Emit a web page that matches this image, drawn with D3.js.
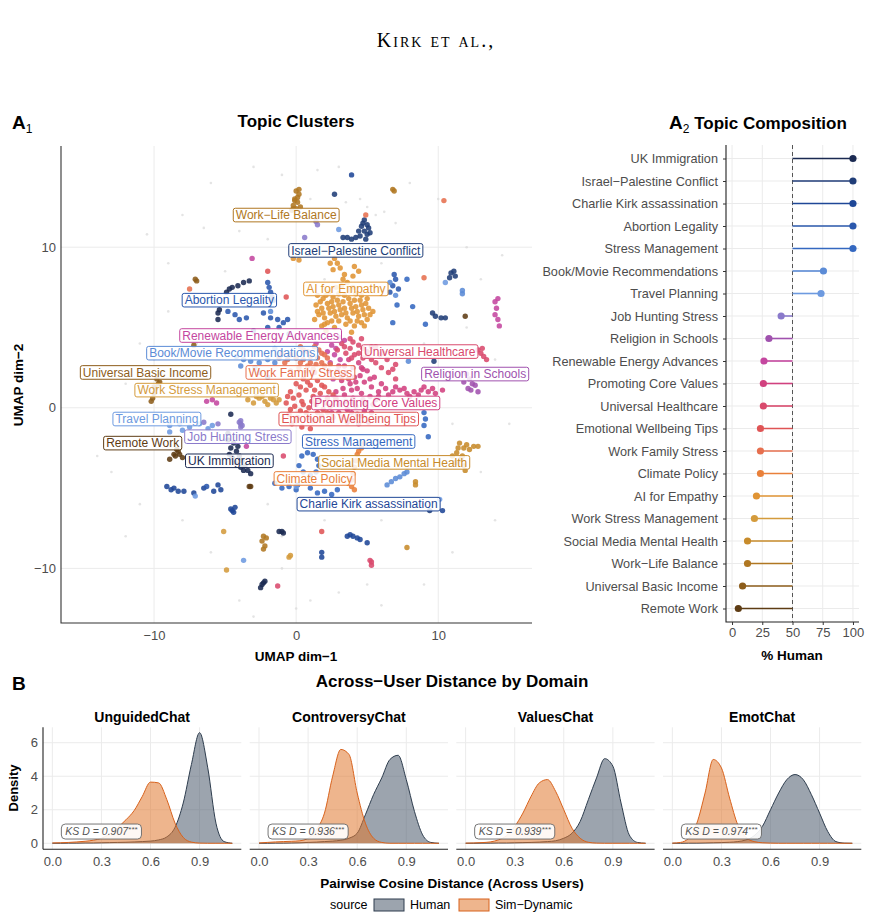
<!DOCTYPE html>
<html>
<head>
<meta charset="utf-8">
<script src="https://cdn.jsdelivr.net/npm/d3@7"></script>
<style>
  body { margin: 0; background: #fff; }
  svg { font-family: "Liberation Sans", Arial, sans-serif; }
</style>
</head>
<body>
<svg id="fig" width="872" height="919"></svg>
<script>
// ---------- data ----------
const topics = ["UK Immigration", "Israel\u2212Palestine Conflict", "Charlie Kirk assassination",
  "Abortion Legality", "Stress Management", "Book/Movie Recommendations", "Travel Planning",
  "Job Hunting Stress", "Religion in Schools", "Renewable Energy Advances", "Promoting Core Values",
  "Universal Healthcare", "Emotional Wellbeing Tips", "Work Family Stress", "Climate Policy",
  "AI for Empathy", "Work Stress Management", "Social Media Mental Health", "Work\u2212Life Balance",
  "Universal Basic Income", "Remote Work"];
const pctHuman = [100, 100, 100, 100, 100, 75.6, 73.6, 40.6, 30.5, 26.4, 25.9, 25.9, 23.5, 23.5,
  23.5, 20.2, 18.5, 12.8, 12.8, 8.7, 5.2];
const topicColors = ["#1b2a52", "#203d78", "#1f4797", "#2b58ad", "#3468c0", "#5b8bd6", "#6d9ae0",
  "#8a7acb", "#a052ae", "#c4479f", "#d1417f", "#d94a6d", "#df5455", "#e66f4e", "#e9803a",
  "#e09434", "#d49b3c", "#c78b2b", "#b07722", "#8d5d1b", "#5e3c14"];

// label anchor per topic (UMAP coords)
const labelPos = [[-4.7, -3.3], [4.2, 9.8], [5.1, -6.0], [-4.7, 6.7], [4.4, -2.1], [-4.5, 3.4],
  [-9.8, -0.7], [-4.1, -1.8], [12.6, 2.1], [-2.5, 4.5], [5.6, 0.3], [8.7, 3.5], [3.7, -0.7],
  [0.3, 2.2], [1.3, -4.4], [3.5, 7.4], [-6.3, 1.1], [6.9, -3.4], [-0.7, 12.0], [-10.6, 2.2],
  [-10.8, -2.2]];

// UMAP embeddings, one list per topic
const ptsUK = [[-4.4,-2.2],[-4.6,-2.5],[-4.2,-2.7],[-4.0,-3.0],[-3.8,-3.3],[-3.6,-3.6],[-3.4,-3.9],
  [-3.2,-4.1],[-4.7,-2.9],[-4.3,-3.4],[-3.9,-3.7],[-4.5,-3.1],[-4.6,-0.4],[-4.8,-1.6],[-4.8,-2.0],
  [-5.5,5.5],[-5.5,5.9],[-5.4,6.1],[-1.2,-7.7],[-1.0,-7.7],[-0.9,-7.8],[-2.4,-11.0],[-2.2,-10.8],
  [-2.5,-11.2],[-2.3,-10.9],[-4.9,7.2],[-4.5,7.5],[-4.1,7.6],[-3.7,7.8],[-3.3,7.9],[-4.7,7.4],
  [-4.1,-2.4],[-3.7,-3.9]];
const ptsIsrael = [[4.6,11.3],[4.8,11.0],[5.0,10.8],[4.5,10.7],[4.9,10.5],[5.2,10.9],[4.2,10.6],
  [3.6,10.6],[3.3,10.6],[4.7,11.5],[5.1,11.2],[4.4,11.0],[5.0,11.4],[10.9,8.4],[11.1,8.5],
  [11.2,8.2],[10.8,8.1],[9.6,5.9],[9.8,5.7],[10.2,5.6],[10.5,5.6],[9.7,2.9],[2.7,13.3],[9.4,-6.4],
  [4.8,11.7],[3.9,10.5]];
const ptsCharlie = [[-9.1,-4.9],[-8.8,-5.1],[-8.3,-5.2],[-7.9,-5.2],[-7.2,-5.3],[-6.5,-5.0],
  [-5.8,-5.2],[-5.5,-4.8],[-5.3,-5.1],[-4.6,-6.3],[-4.4,-6.5],[-4.3,-6.2],[-4.5,-6.4],[3.6,-8.0],
  [3.8,-7.9],[4.0,-8.0],[4.3,-8.1],[4.5,-8.2],[5.0,-8.4],[1.8,-9.0],[1.8,-9.3],[3.9,14.5],
  [10.3,-6.4],[-8.6,-5.0]];
const ptsAbortion = [[-2.0,7.8],[-1.9,7.5],[-1.8,7.2],[-1.7,6.9],[-1.6,6.7],[-2.3,5.9],[-1.8,5.6],
  [-1.3,5.5],[-0.9,5.3],[-0.6,5.5],[-4.8,6.0],[-4.3,5.8],[-4.0,5.5],[-3.5,5.6],[-2.0,5.0],
  [-1.2,5.0],[-3.0,4.8],[-0.5,4.6],[6.6,7.2],[6.8,7.6],[7.0,8.0],[7.2,7.4],[6.9,8.3],[-6.3,-4.9]];
const ptsStress = [[0.4,-3.0],[0.8,-2.8],[1.2,-2.9],[1.5,-3.2],[1.6,-3.6],[1.4,-4.0],[1.0,-4.2],
  [0.5,-4.0],[0.2,-3.6],[-1.5,-4.7],[-1.0,-5.0],[-0.5,-4.9],[0.0,-5.1],[0.1,-4.8],[1.0,-5.0],
  [1.5,-5.3],[2.0,-5.2],[2.5,-5.4],[2.9,-5.1],[9.3,-1.8],[9.0,-0.3],[9.1,-0.7],[9.0,-1.1],
  [7.8,8.0],[6.8,5.3],[9.1,5.2],[8.2,6.3],[7.1,6.4],[-2.6,2.2],[-2.0,1.9]];
const ptsBook = [[-4.2,3.2],[-3.7,3.0],[-3.2,2.9],[-2.6,2.8],[-2.0,3.0],[-1.5,2.8],[-3.9,2.6],
  [-2.9,2.5],[6.4,-4.8],[6.7,-4.6],[7.0,-4.4],[7.3,-4.3],[7.6,-4.1],[7.8,-4.0],[7.9,2.9],
  [6.6,7.8],[7.0,7.0],[11.7,7.1],[11.7,7.3],[-1.8,6.0]];
const ptsTravel = [[-8.9,-1.1],[-8.2,-1.0],[-7.5,-1.2],[-6.8,-1.0],[-6.2,-1.3],[-5.9,-1.1],
  [-8.9,-1.5],[-8.0,-1.4],[10.1,-5.7],[-3.7,-9.5],[-7.1,-5.5],[0.0,-4.9],[10.5,7.8],[3.5,-2.0],
  [-1.5,3.7],[3.0,11.1]];
const ptsJob = [[-3.9,-0.8],[-3.9,-1.0],[-3.9,-1.2],[-4.0,-0.9],[-3.8,-1.1],[-5.5,-1.0],[1.5,11.4],
  [0.6,10.6],[1.4,11.6],[-6.5,-0.9]];
const ptsReligion = [[12.0,2.1],[12.2,1.8],[12.4,1.5],[12.1,1.2],[12.6,1.4],[12.8,1.0],[11.8,1.6],
  [12.3,1.1]];
const ptsRenewable = [[2.5,3.9],[2.7,3.3],[2.4,2.8],[2.9,2.3],[2.6,1.8],[3.1,3.0],[2.2,3.5],[3.4,4.2],
  [14.0,6.6],[14.1,6.2],[14.0,5.8],[14.2,5.5],[14.3,5.1],[14.2,6.8],[-3.1,9.3],[-6.3,0.4],
  [-5.9,0.5],[-5.6,0.3],[-3.5,-2.4],[1.4,4.0],[2.8,3.7],[2.3,2.3],[3.0,4.4]];
const ptsCore = [[3.0,2.6],[3.5,2.2],[4.0,2.5],[4.5,2.0],[5.0,2.3],[3.2,1.7],[3.8,1.5],[4.3,1.2],
  [4.8,1.6],[5.3,1.3],[2.8,1.0],[3.4,0.8],[4.0,0.6],[4.6,0.9],[5.2,0.7],[5.8,1.0],[6.3,1.2],
  [6.8,1.0],[7.3,1.1],[7.8,0.9],[8.3,1.0],[8.8,1.1],[9.3,1.0],[9.8,0.9],[10.3,1.1],[3.0,0.2],
  [3.6,-0.1],[4.2,0.1],[4.8,-0.2],[5.4,0.2],[3.3,-0.6],[4.0,-0.8],[4.6,-0.5],[5.1,-0.9],
  [2.5,-0.3],[5.6,0.5],[6.0,1.5],[4.4,2.8],[3.7,3.0],[5.5,1.9],[3.3,1.2],[4.1,1.9],[4.9,0.3],
  [3.9,-0.3],[3.2,2.0],[3.7,1.8],[4.2,1.6],[4.7,2.4],[5.2,1.8],[3.5,0.4],[4.1,0.3],[4.7,0.5],
  [5.3,-0.3],[3.0,-0.3],[3.6,-0.9],[4.3,-0.4],[2.8,0.6],[6.5,0.8],[7.0,1.3],[7.6,1.2],[8.0,0.7],
  [8.6,0.8],[9.0,1.3],[9.6,1.2],[3.4,2.6],[4.6,2.5],[5.8,0.7],[4.4,-1.0],[3.9,1.1]];
const ptsHealthcare = [[3.2,4.0],[3.8,3.7],[4.4,3.9],[5.0,3.5],[5.6,3.8],[4.1,3.3],[4.7,3.1],
  [5.3,3.0],[5.9,3.3],[6.4,3.0],[7.0,2.7],[3.5,3.4],[6.0,2.5],[6.5,2.2],[2.9,3.6],[12.8,3.6],
  [13.0,3.4],[13.2,3.2],[13.4,3.0],[13.1,3.7],[5.3,-9.6],[5.3,-9.8],[5.2,-9.5],[-1.3,-11.1],
  [7.0,1.8],[-0.9,-3.0],[3.4,3.8],[4.0,4.1],[4.7,3.7],[5.3,3.8],[4.4,3.4],[5.0,3.2],[5.6,2.8],
  [3.8,4.3],[6.2,3.4],[6.8,2.4],[3.9,3.1],[4.6,4.3]];
const ptsEmotional = [[0.0,1.5],[0.5,1.8],[1.0,1.4],[1.5,1.7],[2.0,1.3],[-0.4,1.0],[0.2,0.8],
  [0.7,1.1],[1.2,0.7],[1.7,0.9],[2.2,0.6],[-0.7,0.3],[-0.1,0.1],[0.4,0.4],[0.9,0.0],[1.4,0.2],
  [1.9,-0.1],[2.4,0.1],[-0.5,-0.4],[0.1,-0.6],[0.7,-0.3],[1.2,-0.8],[1.8,-0.5],[-0.3,-1.0],
  [0.4,-1.2],[1.0,-1.3],[2.6,-0.6],[2.8,0.5],[1.8,-7.7],[-2.0,8.5],[-0.7,6.9],[-0.4,2.3],[1.3,2.2],
  [0.3,1.3],[0.8,1.6],[1.3,1.1],[1.8,1.4],[2.3,1.0],[-0.2,0.6],[0.5,0.2],[1.1,0.4],[1.6,0.5],
  [2.1,0.3],[-0.4,-0.1],[0.3,-0.2],[0.9,-0.6],[1.5,-0.3],[2.2,-0.3],[-0.6,0.7],[2.6,0.8],[0.0,-0.8]];
const ptsFamily = [[0.3,3.8],[0.8,3.5],[1.3,3.8],[1.8,3.4],[2.2,3.1],[0.5,3.0],[1.0,2.8],[1.5,3.1],
  [2.0,2.6],[0.2,2.5],[0.7,2.3],[-1.2,3.1],[-0.8,2.8],[-1.0,3.4],[-0.4,3.3],[1.2,2.4],[4.9,12.0],
  [9.0,8.1],[10.4,12.9],[-7.5,7.4],[0.5,3.6],[1.0,3.2],[1.6,3.6],[2.0,3.3],[0.8,2.6],[1.4,2.7],
  [0.0,3.1],[0.3,2.8],[1.8,2.8],[-0.6,3.0],[2.4,2.7]];
const ptsClimate = [[4.8,-2.2],[4.6,-2.5],[4.3,-2.9],[4.2,-3.3],[4.1,-3.7],[4.0,-4.1],[3.9,-4.5],
  [3.9,-4.9],[4.1,-5.1],[4.4,-2.7]];
const ptsAI = [[2.4,9.0],[2.7,9.3],[2.9,9.0],[3.1,8.7],[2.6,8.6],[3.4,8.3],[4.1,8.8],[4.4,8.5],
  [4.0,8.2],[1.5,7.0],[1.9,6.8],[2.3,7.2],[2.6,6.9],[3.0,7.1],[3.4,7.0],[3.8,7.3],[4.2,7.1],
  [4.6,7.0],[5.0,6.8],[1.4,6.4],[1.8,6.2],[2.2,6.5],[2.6,6.3],[3.0,6.4],[3.4,6.2],[3.8,6.5],
  [4.2,6.3],[4.6,6.4],[5.1,6.2],[5.4,6.0],[1.6,5.8],[2.0,5.6],[2.4,5.9],[2.8,5.7],[3.2,5.8],
  [3.6,5.6],[4.0,5.9],[4.4,5.7],[4.8,5.8],[1.8,5.1],[2.2,5.3],[2.7,5.0],[3.5,5.2],[4.1,5.1],
  [4.6,5.3],[5.0,5.5],[1.3,5.5],[2.1,4.8],[3.9,4.7],[-0.2,9.3],[0.2,9.2],[1.7,6.6],[2.1,7.0],
  [2.5,6.6],[2.9,6.7],[3.3,6.6],[3.7,6.8],[4.1,6.7],[4.5,6.7],[4.9,6.5],[1.5,6.0],[1.9,5.9],
  [2.3,6.2],[2.7,6.0],[3.1,6.1],[3.5,5.9],[3.9,6.2],[4.3,6.0],[4.7,6.1],[5.2,5.8],[2.0,5.2],
  [2.5,5.4],[3.0,5.4],[3.8,5.4],[4.3,5.4],[4.8,5.1],[3.2,7.6],[3.6,7.8],[2.8,7.5],[4.0,7.5],[3.3,8.0]];
const ptsWorkStress = [[-3.4,0.5],[-3.0,0.3],[-2.6,0.6],[-2.2,0.4],[-1.8,0.6],[-1.4,0.3],[-2.8,0.7],
  [-2.0,0.2],[-1.6,0.5],[-5.1,-7.7],[-4.9,-10.1],[-0.5,-9.3],[-0.4,-9.2],[-2.4,0.7],[-1.2,0.5]];
const ptsSocial = [[11.5,-2.2],[11.8,-2.5],[12.0,-2.3],[12.5,-2.4],[12.8,-2.4],[11.3,-2.8],
  [11.6,-3.2],[11.8,-3.6],[11.9,-3.9],[11.2,-3.4],[12.2,-2.6],[11.0,-3.0],[8.4,-4.8],[8.4,-4.6],
  [7.8,-8.7],[11.4,-2.5],[11.7,-3.0]];
const ptsWorkLife = [[0.0,13.5],[0.2,13.3],[-0.1,13.0],[0.1,12.8],[-0.2,12.6],[0.0,12.4],[0.3,12.5],
  [-0.3,12.3],[0.2,13.6],[-0.1,12.9],[6.8,13.6],[6.9,13.5],[-2.3,-8.0],[-2.4,-8.3],[-2.2,-8.6],
  [-2.3,-8.8],[-2.1,-8.1],[0.1,13.1],[-0.2,12.4]];
const ptsUBI = [[-9.8,1.8],[-9.7,1.5],[-9.9,1.2],[-10.0,0.9],[-10.1,0.6],[-10.2,0.4],[-9.6,1.6],
  [-10.0,1.3],[-7.0,7.9],[-7.1,8.0],[-7.2,3.9]];
const ptsRemote = [[-8.4,-2.6],[-8.2,-2.9],[-8.6,-2.9],[-8.9,-3.2],[-8.0,-3.1],[-8.5,-3.0],
  [-8.3,-2.7],[-3.2,-4.9],[-3.3,-4.9],[11.9,5.7]];
const ptsOther = [[-12,1.5],[-11,4],[-13,-4],[-9,9],[-8,12],[-6,14],[-3,15],[-1,14.5],[1,13],[3,15],
  [5,12.5],[7,11.5],[8,14],[10,13],[12,10],[13,8],[14,3],[15,-1],[13,-4],[14,-7],[11,-9],[9,-11],
  [6,-12.3],[3,-11.5],[1,-12],[-1,-10],[-4,-12],[-6,-9],[-8,-7],[-11,-6],[-14,-3],[-12,-8],[-7,4],
  [-5,8.5],[-2,10.5],[0.5,10],[2,8],[6,9],[9,4],[11,-1],[10,-3],[8,-6],[6,-7],[2,-7],[-2,-6],
  [-6,-3],[-10,3],[-9,6],[-4,11],[3.5,12.8],[4.5,13],[7,3.5],[8,-1],[-1,-8],[0,-12.5],[5,-11],
  [-3,-13],[12,5],[-12.5,-1],[14.5,9.5],[6.2,12.2],[5.6,12.0],[1.5,14.8],[-6.5,11.2],[-10.5,10.8]];
const clusterPts = [ptsUK, ptsIsrael, ptsCharlie, ptsAbortion, ptsStress, ptsBook, ptsTravel, ptsJob,
  ptsReligion, ptsRenewable, ptsCore, ptsHealthcare, ptsEmotional, ptsFamily, ptsClimate, ptsAI,
  ptsWorkStress, ptsSocial, ptsWorkLife, ptsUBI, ptsRemote];

// panel B
const domains = ["UnguidedChat", "ControversyChat", "ValuesChat", "EmotChat"];
const ksD = ["0.907", "0.936", "0.939", "0.974"];
const distGrid = [0, 0.05, 0.1, 0.15, 0.2, 0.25, 0.3, 0.35, 0.4, 0.45, 0.5, 0.55, 0.6, 0.65, 0.7,
  0.75, 0.8, 0.85, 0.9, 0.95, 1.0, 1.05, 1.1];
const humanDens = [
  [0,0,0.01,0.01,0.02,0.02,0.03,0.04,0.05,0.06,0.08,0.1,0.13,0.2,0.38,0.95,2.4,4.7,6.6,4.5,1.2,0.1,0],
  [0,0,0.01,0.01,0.02,0.03,0.05,0.07,0.1,0.13,0.18,0.3,0.6,1.7,2.9,3.9,5.0,5.25,3.8,1.9,0.5,0.05,0],
  [0,0,0.01,0.01,0.02,0.02,0.03,0.04,0.05,0.07,0.1,0.15,0.3,0.6,1.3,2.6,3.9,5.05,4.6,2.4,0.5,0.05,0],
  [0,0,0.01,0.01,0.02,0.03,0.04,0.06,0.1,0.2,0.45,1.0,2.0,3.0,3.8,4.1,3.8,2.9,1.8,0.7,0.1,0.01,0]
];
const simDens = [
  [0.02,0.03,0.05,0.08,0.12,0.18,0.3,0.55,0.95,1.4,1.95,2.8,3.65,3.6,2.6,1.2,0.35,0.07,0.01,0,0,0,0],
  [0.02,0.05,0.08,0.1,0.12,0.15,0.3,0.8,1.8,4.0,5.6,5.3,3.0,1.2,0.3,0.05,0,0,0,0,0,0,0],
  [0.01,0.02,0.04,0.08,0.2,0.45,1.0,1.8,2.8,3.6,3.8,3.1,2.0,0.9,0.3,0.06,0.01,0,0,0,0,0,0],
  [0.01,0.05,0.3,1.2,3.0,5.0,4.5,2.7,1.1,0.35,0.1,0.03,0.01,0,0,0,0,0,0,0,0,0,0]
];
const sources = ["Human", "Sim\u2212Dynamic"];

// ---------- drawing ----------
const svg = d3.select("#fig");
const minus = d => (d < 0 ? "\u2212" + Math.abs(d) : String(d));
const gridCol = "#ebebeb", tickCol = "#4d4d4d";

svg.append("text").attr("x", 436).attr("y", 47).attr("text-anchor", "middle")
  .style("font-family", "'Liberation Serif','DejaVu Serif',serif")
  .style("font-variant", "small-caps").style("font-size", "20px")
  .style("letter-spacing", "2px").text("Kirk et al.,");

function panelTag(x, y, letter, sub) {
  const t = svg.append("text").attr("x", x).attr("y", y).style("font-weight", "bold").style("font-size", "19px");
  t.append("tspan").text(letter);
  if (sub) t.append("tspan").attr("dy", 4).style("font-size", "12px").style("font-weight", "normal").text(sub);
  return t;
}

// ----- A1 -----
panelTag(12, 129, "A", "1");
svg.append("text").attr("x", 296).attr("y", 127).attr("text-anchor", "middle")
  .style("font-weight", "bold").style("font-size", "17px").text("Topic Clusters");

const xA1 = d3.scaleLinear().domain([-16.55, 16.6]).range([61, 532]);
const yA1 = d3.scaleLinear().domain([-13.4, 16.3]).range([623, 146]);
const a1 = svg.append("g");
const umapTicks = [-10, 0, 10];

a1.selectAll(".gx").data(umapTicks).join("line")
  .attr("x1", d => xA1(d)).attr("x2", d => xA1(d)).attr("y1", 146).attr("y2", 623)
  .attr("stroke", gridCol).attr("stroke-width", 1);
a1.selectAll(".gy").data(umapTicks).join("line")
  .attr("y1", d => yA1(d)).attr("y2", d => yA1(d)).attr("x1", 61).attr("x2", 532)
  .attr("stroke", gridCol).attr("stroke-width", 1);

a1.append("g").selectAll("circle").data(ptsOther).join("circle")
  .attr("cx", d => xA1(d[0])).attr("cy", d => yA1(d[1])).attr("r", 1.3)
  .attr("fill", "#d9d9d9").attr("opacity", 0.7);

topics.forEach((t, i) => {
  a1.append("g").selectAll("circle").data(clusterPts[i]).join("circle")
    .attr("cx", d => xA1(d[0])).attr("cy", d => yA1(d[1])).attr("r", 2.7)
    .attr("fill", topicColors[i]).attr("opacity", 0.88);
});

const labG = a1.append("g");
topics.forEach((t, i) => {
  const g = labG.append("g").attr("transform", `translate(${xA1(labelPos[i][0])},${yA1(labelPos[i][1])})`);
  const rect = g.append("rect");
  const txt = g.append("text").attr("text-anchor", "middle").attr("y", 4.2)
    .style("font-size", "12px").attr("fill", topicColors[i]).text(t);
  const w = txt.node().getComputedTextLength();
  rect.attr("x", -w / 2 - 2.5).attr("y", -6.8).attr("width", w + 5).attr("height", 13.6)
    .attr("rx", 2).attr("fill", "#fff").attr("fill-opacity", 0.85)
    .attr("stroke", topicColors[i]).attr("stroke-width", 1);
});

a1.append("path").attr("d", "M61,146V623H532").attr("fill", "none").attr("stroke", "#333").attr("stroke-width", 1.1);

a1.append("g").attr("transform", "translate(0,631)")
  .call(d3.axisBottom(xA1).tickValues(umapTicks).tickSize(0).tickPadding(0).tickFormat(minus))
  .call(g => g.select(".domain").remove())
  .selectAll("text").style("font-size", "13px").attr("fill", tickCol).attr("dy", "0.71em");
a1.append("g").attr("transform", "translate(56,0)")
  .call(d3.axisLeft(yA1).tickValues(umapTicks).tickSize(0).tickPadding(0).tickFormat(minus))
  .call(g => g.select(".domain").remove())
  .selectAll("text").style("font-size", "13px").attr("fill", tickCol);
svg.append("text").attr("x", 296).attr("y", 661).attr("text-anchor", "middle")
  .style("font-weight", "bold").style("font-size", "13.5px").text("UMAP dim\u22121");
svg.append("text").attr("transform", "translate(23,385) rotate(-90)").attr("text-anchor", "middle")
  .style("font-weight", "bold").style("font-size", "13.5px").text("UMAP dim\u22122");

// ----- A2 -----
const tA2 = panelTag(669, 129, "A", "2");
tA2.append("tspan").attr("dy", -4).style("font-size", "17px").text(" Topic Composition");

const xA2 = d3.scaleLinear().domain([-5, 105]).range([726, 859]);
const yA2 = d3.scalePoint().domain(topics).range([145, 622]).padding(0.6);
const a2 = svg.append("g");
const pctTicks = [0, 25, 50, 75, 100];

a2.selectAll(".gx").data(pctTicks).join("line")
  .attr("x1", d => xA2(d)).attr("x2", d => xA2(d)).attr("y1", 145).attr("y2", 622)
  .attr("stroke", gridCol);
a2.selectAll(".gy").data(topics).join("line")
  .attr("y1", d => yA2(d)).attr("y2", d => yA2(d)).attr("x1", 726).attr("x2", 859)
  .attr("stroke", gridCol);
a2.append("line").attr("x1", xA2(50)).attr("x2", xA2(50)).attr("y1", 145).attr("y2", 622)
  .attr("stroke", "#555").attr("stroke-dasharray", "4,3").attr("stroke-width", 1);

a2.selectAll(".seg").data(topics).join("line")
  .attr("x1", xA2(50)).attr("x2", (d, i) => xA2(pctHuman[i]))
  .attr("y1", d => yA2(d)).attr("y2", d => yA2(d))
  .attr("stroke", (d, i) => topicColors[i]).attr("stroke-width", 1.6);
a2.selectAll(".dot").data(topics).join("circle")
  .attr("cx", (d, i) => xA2(pctHuman[i])).attr("cy", d => yA2(d)).attr("r", 3.6)
  .attr("fill", (d, i) => topicColors[i]);

a2.append("path").attr("d", "M726,145V622H859").attr("fill", "none").attr("stroke", "#222").attr("stroke-width", 1.1);
a2.append("g").attr("transform", "translate(726,0)")
  .call(d3.axisLeft(yA2).tickSize(3).tickPadding(5))
  .call(g => g.select(".domain").remove())
  .call(g => g.selectAll("line").attr("stroke", "#333"))
  .selectAll("text").style("font-size", "12.7px").attr("fill", tickCol);
a2.append("g").attr("transform", "translate(0,622)")
  .call(d3.axisBottom(xA2).tickValues(pctTicks).tickSize(3).tickPadding(3))
  .call(g => g.select(".domain").remove())
  .call(g => g.selectAll("line").attr("stroke", "#333"))
  .selectAll("text").style("font-size", "13px").attr("fill", tickCol);
svg.append("text").attr("x", 792).attr("y", 660).attr("text-anchor", "middle")
  .style("font-weight", "bold").style("font-size", "13.5px").text("% Human");

// ----- B -----
panelTag(12, 690, "B");
svg.append("text").attr("x", 452).attr("y", 687).attr("text-anchor", "middle")
  .style("font-weight", "bold").style("font-size", "17px").text("Across\u2212User Distance by Domain");

const panelLeft = [43, 249.7, 456.3, 663];
const panelW = 198.3;
const yB = d3.scaleLinear().domain([-0.36, 6.92]).range([849.3, 727.3]);
const distTicks = [0, 0.3, 0.6, 0.9];
const densTicks = [0, 2, 4, 6];
const humanFill = "#4a5a6b", humanLine = "#2e3d4e", simFill = "#e0782f", simLine = "#d8621c";

domains.forEach((dom, k) => {
  const x0 = panelLeft[k];
  const xB = d3.scaleLinear().domain([-0.057, 1.155]).range([x0, x0 + panelW]);
  const g = svg.append("g");
  g.selectAll(".gx").data(distTicks).join("line")
    .attr("x1", d => xB(d)).attr("x2", d => xB(d)).attr("y1", 727.3).attr("y2", 849.3).attr("stroke", gridCol);
  g.selectAll(".gy").data(densTicks).join("line")
    .attr("y1", d => yB(d)).attr("y2", d => yB(d)).attr("x1", x0).attr("x2", x0 + panelW).attr("stroke", gridCol);

  const area = d3.area().x((d, i) => xB(distGrid[i])).y0(yB(0)).y1(d => yB(d)).curve(d3.curveMonotoneX);
  const line = d3.line().x((d, i) => xB(distGrid[i])).y(d => yB(d)).curve(d3.curveMonotoneX);
  [[humanDens[k], humanFill, humanLine], [simDens[k], simFill, simLine]].forEach(([vals, f, s]) => {
    g.append("path").attr("d", area(vals)).attr("fill", f).attr("fill-opacity", 0.55);
    g.append("path").attr("d", line(vals)).attr("fill", "none").attr("stroke", s).attr("stroke-width", 1);
  });

  // KS label
  const lg = g.append("g").attr("transform", `translate(${xB(0.3)},${yB(0.7)})`);
  const lr = lg.append("rect");
  const lt = lg.append("text").attr("text-anchor", "middle").attr("y", 3.8)
    .style("font-size", "10.5px").style("font-style", "italic").attr("fill", "#555");
  lt.append("tspan").text("KS D = " + ksD[k]);
  lt.append("tspan").attr("dy", -3).style("font-size", "8px").text("***");
  const lw = lt.node().getComputedTextLength();
  lr.attr("x", -lw / 2 - 4).attr("y", -7.5).attr("width", lw + 8).attr("height", 15).attr("rx", 4)
    .attr("fill", "#fff").attr("fill-opacity", 0.9).attr("stroke", "#666").attr("stroke-width", 0.9);

  g.append("line").attr("x1", x0).attr("x2", x0 + panelW).attr("y1", 849.3).attr("y2", 849.3)
    .attr("stroke", "#222").attr("stroke-width", 1.1);
  if (k === 0) {
    g.append("line").attr("x1", x0).attr("x2", x0).attr("y1", 727.3).attr("y2", 849.3)
      .attr("stroke", "#222").attr("stroke-width", 1.1);
    g.append("g").attr("transform", `translate(${x0 - 5},0)`)
      .call(d3.axisLeft(yB).tickValues(densTicks).tickSize(0).tickPadding(0))
      .call(a => a.select(".domain").remove())
      .selectAll("text").style("font-size", "13px").attr("fill", tickCol);
  }
  g.append("g").attr("transform", "translate(0,857)")
    .call(d3.axisBottom(xB).tickValues(distTicks).tickSize(0).tickPadding(0).tickFormat(d3.format(".1f")))
    .call(a => a.select(".domain").remove())
    .selectAll("text").style("font-size", "13px").attr("fill", tickCol).attr("dy", "0.71em");

  svg.append("text").attr("x", x0 + panelW / 2).attr("y", 722).attr("text-anchor", "middle")
    .style("font-weight", "bold").style("font-size", "14px").text(dom);
});

svg.append("text").attr("transform", "translate(18,788) rotate(-90)").attr("text-anchor", "middle")
  .style("font-weight", "bold").style("font-size", "13px").text("Density");
svg.append("text").attr("x", 452).attr("y", 888).attr("text-anchor", "middle")
  .style("font-weight", "bold").style("font-size", "13.5px").text("Pairwise Cosine Distance (Across Users)");

// legend
const leg = svg.append("g");
leg.append("text").attr("x", 330).attr("y", 909).style("font-size", "12.5px").text("source");
const legX = [374, 459];
sources.forEach((s, i) => {
  leg.append("rect").attr("x", legX[i]).attr("y", 899).attr("width", 30).attr("height", 12)
    .attr("fill", i === 0 ? humanFill : simFill).attr("fill-opacity", 0.55)
    .attr("stroke", i === 0 ? humanLine : simLine).attr("stroke-width", 1);
  leg.append("text").attr("x", legX[i] + 36).attr("y", 909).style("font-size", "12.5px").text(s);
});
</script>
</body>
</html>
